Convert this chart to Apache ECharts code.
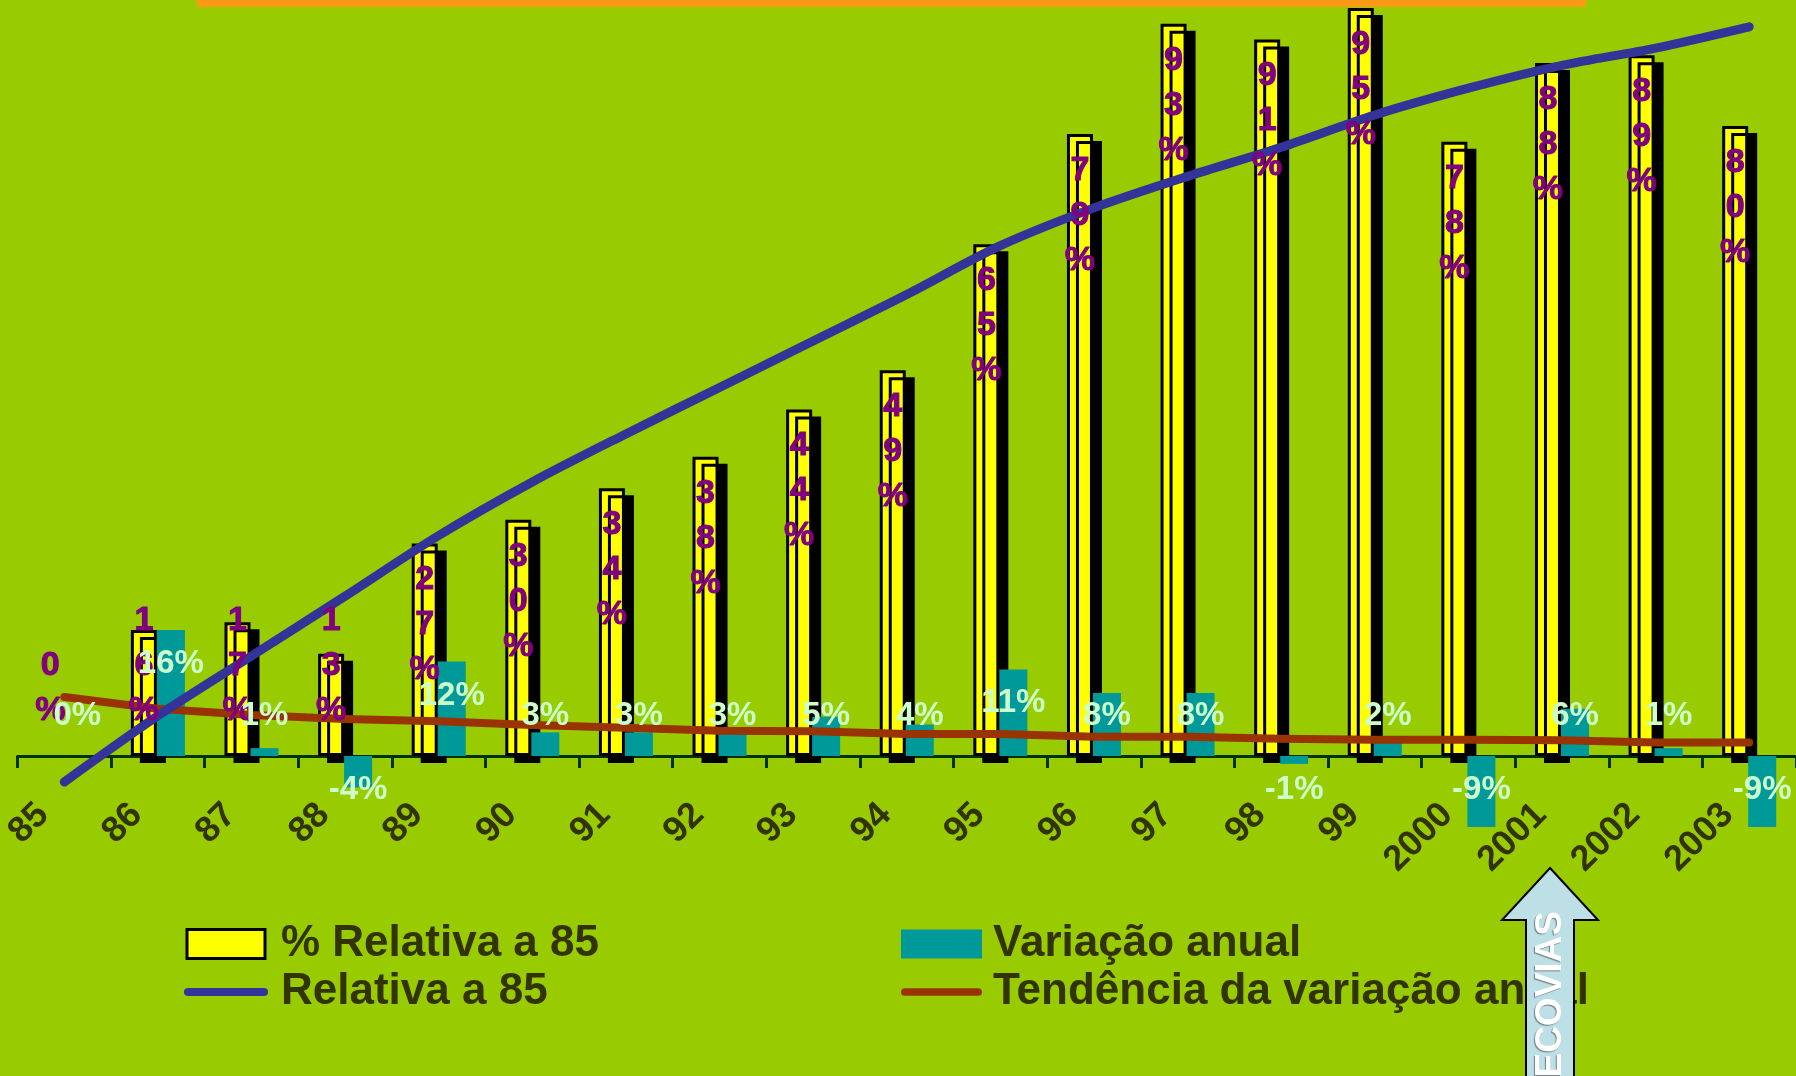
<!DOCTYPE html>
<html>
<head>
<meta charset="utf-8">
<script src="https://cdn.jsdelivr.net/npm/echarts@6/dist/echarts.min.js"></script>
<style>
html,body{margin:0;padding:0;background:#99CC00;}
#chart{width:1796px;height:1076px;}
</style>
</head>
<body>
<div id="chart"></div>
<script>
const categories = ['85','86','87','88','89','90','91','92','93','94','95','96','97','98','99','2000','2001','2002','2003'];
const relPct = [0,16,17,13,27,30,34,38,44,49,65,79,93,91,95,78,88,89,80];
const varAnual = [0,16,1,-4,12,3,3,3,5,4,11,8,8,-1,2,-9,6,1,-9];
const relLine = [-3.3,5.1,12.7,20.3,28.0,34.8,40.9,46.8,52.7,58.6,64.8,69.6,73.6,77.3,81.4,84.8,87.7,89.9,92.6];
const tendencia = [7.5,6.0,5.2,4.7,4.4,3.95,3.6,3.2,3.15,2.8,2.8,2.45,2.45,2.2,2.05,2.05,2.0,1.7,1.7];

const FONT = '"Liberation Sans", Arial, sans-serif';
const BAR_Y = 26, BAR_T = 28;
const lineIcon = 'path://M4,0 H80 A4,4 0 0 1 80,8 H4 A4,4 0 0 1 4,0 Z';

const yellowData = relPct.map(v => v === 0
  ? {value: v, itemStyle: {borderWidth: 0, shadowColor: 'transparent'}}
  : v);

const chart = echarts.init(document.getElementById('chart'));
const option = {
  backgroundColor: '#99CC00',
  animation: false,
  grid: {left: 16, top: 0, width: 1782, height: 756},
  xAxis: {
    type: 'category',
    data: categories,
    axisLine: {show: true, onZero: false, lineStyle: {color: '#003300', width: 3}},
    axisTick: {show: true, inside: false, interval: 0, length: 12, lineStyle: {color: '#003300', width: 3}},
    axisLabel: {show: true, interval: 0, rotate: 45, margin: 32, color: '#333300', fontSize: 36,
      fontWeight: 'bold', fontFamily: FONT, padding: [0, 30, 0, 0]}
  },
  yAxis: {type: 'value', min: 0, max: 96, show: false},
  legend: [
    {
      left: 179, top: 917, orient: 'vertical', itemWidth: 84, itemHeight: 29, itemGap: 4,
      textStyle: {fontSize: 44, fontWeight: 'bold', color: '#333300', fontFamily: FONT, padding: [0, 0, 0, 8]},
      selectedMode: false,
      data: [
        {name: '% Relativa a 85', icon: 'path://M0,0 H78 V29 H0 Z', itemStyle: {color: '#FFFF00', borderColor: '#000', borderWidth: 3, shadowColor: 'transparent', shadowOffsetX: 0, shadowOffsetY: 0}},
        {name: 'Relativa a 85', icon: lineIcon, itemStyle: {color: '#333399', borderWidth: 0}}
      ]
    },
    {
      left: 896, top: 917, orient: 'vertical', itemWidth: 81, itemHeight: 29, itemGap: 4,
      textStyle: {fontSize: 44, fontWeight: 'bold', color: '#333300', fontFamily: FONT, padding: [0, 0, 0, 6]},
      selectedMode: false,
      data: [
        {name: 'Variação anual', icon: 'rect', itemStyle: {color: '#009999', borderWidth: 0}},
        {name: 'Tendência da variação anual', icon: lineIcon, itemStyle: {color: '#993300', borderWidth: 0}}
      ]
    }
  ],
  series: [
    {
      name: '% Relativa a 85', type: 'bar', data: yellowData, barWidth: BAR_Y, barGap: '0%', clip: false,
      itemStyle: {color: '#FFFF00', borderColor: '#000', borderWidth: 3,
        shadowColor: '#000', shadowOffsetX: 9, shadowOffsetY: 7, shadowBlur: 0},
      z: 2
    },
    {
      name: 'Variação anual', type: 'bar', data: varAnual, barWidth: BAR_T, clip: false,
      itemStyle: {color: '#009999'}, z: 2
    },
    {
      name: 'Tendência da variação anual', type: 'line', data: tendencia, symbol: 'none', clip: false,
      lineStyle: {color: '#993300', width: 8, cap: 'round', join: 'round'},
      itemStyle: {color: '#993300'}, z: 3
    },
    {
      name: 'Relativa a 85', type: 'line', data: relLine, symbol: 'none', smooth: 0.3, clip: false,
      lineStyle: {color: '#333399', width: 9, cap: 'round', join: 'round'},
      itemStyle: {color: '#333399'}, z: 3
    },
    {
      name: 'labels', type: 'custom', silent: true, z: 10, clip: false,
      data: categories.map((c, i) => [i, relPct[i], varAnual[i]]),
      encode: {x: 0, y: 1},
      renderItem: function (params, api) {
        const i = api.value(0);
        const yv = api.value(1), tv = api.value(2);
        const base = api.coord([i, 0]);
        const cx = base[0], y0 = base[1];
        const gw = BAR_Y + BAR_T;
        const xY = cx - gw / 2 + BAR_Y / 2;
        const xT = cx - gw / 2 + BAR_Y + BAR_T / 2;
        const chars = (yv + '%').split('');
        const blockH = chars.length * 45;
        const yTop = api.coord([i, yv])[1];
        const pTop = Math.min(yTop + 14, y0 - 23 - blockH);
        let tY;
        if (tv >= 0) tY = Math.min(api.coord([i, tv])[1] + 34, y0 - 40);
        else tY = y0 + 34;
        return {
          type: 'group',
          children: [
            {type: 'text', x: xY, y: pTop, style: {text: chars.join('\n'), fill: '#800080',
              stroke: '#800080', lineWidth: 1,
              font: 'bold 34px ' + FONT, lineHeight: 45, align: 'center', verticalAlign: 'top'}},
            {type: 'text', x: xT, y: tY, style: {text: tv + '%', fill: '#CCFFCC',
              font: 'bold 33px ' + FONT, align: 'center', verticalAlign: 'middle'}}
          ]
        };
      }
    }
  ],
  graphic: [
    {type: 'rect', z: 100, shape: {x: 197, y: 0, width: 1389, height: 7}, style: {fill: '#FF9A16'}},
    {type: 'polygon', z: 100, shape: {points: [[1550, 868], [1598, 920], [1574, 920], [1574, 1080], [1526, 1080], [1526, 920], [1502, 920]]},
      style: {fill: '#BDE0E6', stroke: '#000', lineWidth: 2}},
    {type: 'text', z: 101, x: 1551, y: 911, rotation: Math.PI / 2,
      style: {text: 'ECOVIAS', fill: '#FFFFFF', font: 'bold 37px ' + FONT, align: 'right', verticalAlign: 'middle',
        textShadowColor: 'rgba(60,60,60,0.6)', textShadowOffsetX: -1, textShadowOffsetY: 1, textShadowBlur: 1}}
  ]
};
chart.setOption(option);
</script>
</body>
</html>
